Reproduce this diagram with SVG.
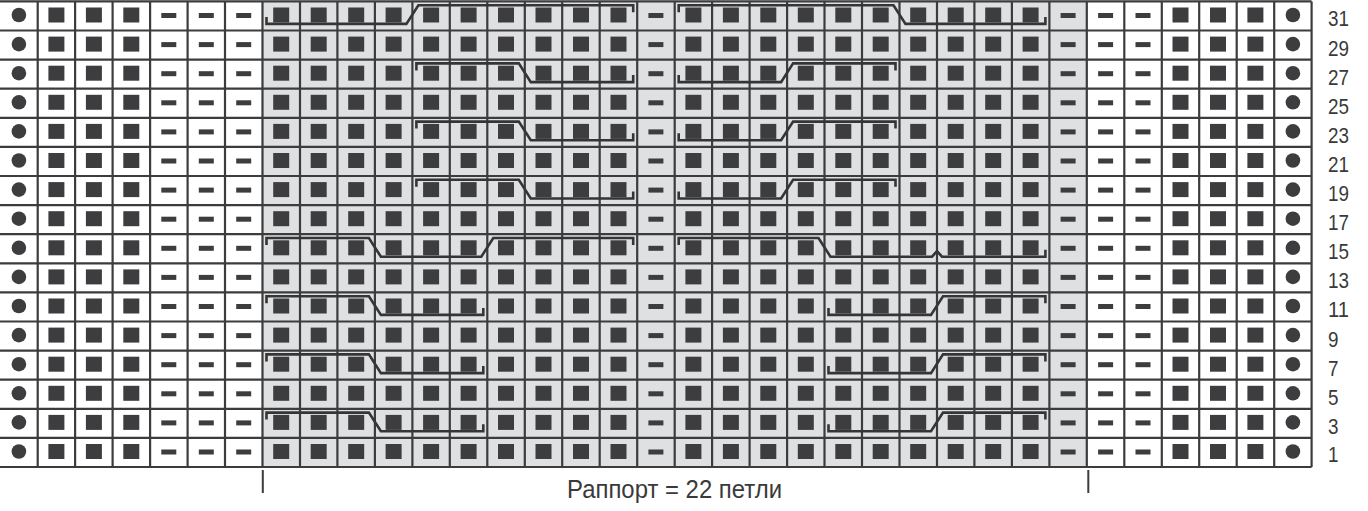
<svg xmlns="http://www.w3.org/2000/svg" xmlns:xlink="http://www.w3.org/1999/xlink" width="1368" height="511" viewBox="0 0 1368 511">
<style>
.grid{fill:none;stroke:#3c3c3c;stroke-width:2.2}
.cable{fill:none;stroke:#353535;stroke-width:2.6;stroke-linejoin:miter}
.st{fill:#3d3d3f}
.lbl{font-family:"Liberation Sans Narrow","Liberation Sans",Arial,sans-serif;font-size:22px;fill:#3a3a3a}
.cap{font-family:"Liberation Sans Narrow","Liberation Sans",Arial,sans-serif;font-size:25px;fill:#3a3a3a}
.mark{stroke:#3c3c3c;stroke-width:2}
</style>
<defs>
<rect id="sq" class="st" x="-8" y="-7.5" width="16" height="15"/>
<rect id="ds" class="st" x="-7.5" y="-2.5" width="15" height="5"/>
<circle id="dt" class="st" r="7.3"/>
<g id="row">
<use href="#dt" x="18.9" y="15"/>
<use href="#sq" x="56.4" y="15"/>
<use href="#sq" x="93.9" y="15"/>
<use href="#sq" x="131.3" y="15"/>
<use href="#ds" x="168.8" y="15.5"/>
<use href="#ds" x="206.3" y="15.5"/>
<use href="#ds" x="243.7" y="15.5"/>
<use href="#sq" x="281.2" y="15"/>
<use href="#sq" x="318.7" y="15"/>
<use href="#sq" x="356.2" y="15"/>
<use href="#sq" x="393.6" y="15"/>
<use href="#sq" x="431.1" y="15"/>
<use href="#sq" x="468.6" y="15"/>
<use href="#sq" x="506.0" y="15"/>
<use href="#sq" x="543.5" y="15"/>
<use href="#sq" x="581.0" y="15"/>
<use href="#sq" x="618.5" y="15"/>
<use href="#ds" x="655.9" y="15.5"/>
<use href="#sq" x="693.4" y="15"/>
<use href="#sq" x="730.9" y="15"/>
<use href="#sq" x="768.3" y="15"/>
<use href="#sq" x="805.8" y="15"/>
<use href="#sq" x="843.3" y="15"/>
<use href="#sq" x="880.7" y="15"/>
<use href="#sq" x="918.2" y="15"/>
<use href="#sq" x="955.7" y="15"/>
<use href="#sq" x="993.2" y="15"/>
<use href="#sq" x="1030.6" y="15"/>
<use href="#ds" x="1068.1" y="15.5"/>
<use href="#ds" x="1105.6" y="15.5"/>
<use href="#ds" x="1143.0" y="15.5"/>
<use href="#sq" x="1180.5" y="15"/>
<use href="#sq" x="1218.0" y="15"/>
<use href="#sq" x="1255.4" y="15"/>
<use href="#dt" x="1292.9" y="15"/>
</g>
</defs>
<rect width="1368" height="511" fill="#ffffff"/>
<g id="rapport-shading">
<rect x="262.5" y="1.4" width="824.3" height="465.6" fill="#dfe0e2"/>
</g>
<g id="stitches">
<use href="#row" y="0"/>
<use href="#row" y="29.1"/>
<use href="#row" y="58.2"/>
<use href="#row" y="87.3"/>
<use href="#row" y="116.4"/>
<use href="#row" y="145.5"/>
<use href="#row" y="174.6"/>
<use href="#row" y="203.7"/>
<use href="#row" y="232.8"/>
<use href="#row" y="261.9"/>
<use href="#row" y="291.0"/>
<use href="#row" y="320.1"/>
<use href="#row" y="349.2"/>
<use href="#row" y="378.3"/>
<use href="#row" y="407.4"/>
<use href="#row" y="436.5"/>
</g>
<g id="grid">
<path class="grid" d="M0,1.4H1311.6M0,30.5H1311.6M0,59.6H1311.6M0,88.7H1311.6M0,117.8H1311.6M0,146.9H1311.6M0,176H1311.6M0,205.1H1311.6M0,234.2H1311.6M0,263.3H1311.6M0,292.4H1311.6M0,321.5H1311.6M0,350.6H1311.6M0,379.7H1311.6M0,408.8H1311.6M0,437.9H1311.6M0,467H1311.6"/>
<path class="grid" d="M37.7,1.4V467M75.1,1.4V467M112.6,1.4V467M150.1,1.4V467M187.6,1.4V467M225,1.4V467M262.5,1.4V467M300,1.4V467M337.4,1.4V467M374.9,1.4V467M412.4,1.4V467M449.8,1.4V467M487.3,1.4V467M524.8,1.4V467M562.2,1.4V467M599.7,1.4V467M637.2,1.4V467M674.7,1.4V467M712.1,1.4V467M749.6,1.4V467M787.1,1.4V467M824.5,1.4V467M862,1.4V467M899.5,1.4V467M937,1.4V467M974.4,1.4V467M1011.9,1.4V467M1049.4,1.4V467M1086.8,1.4V467M1124.3,1.4V467M1161.8,1.4V467M1199.2,1.4V467M1236.7,1.4V467M1274.2,1.4V467M1311.6,1.4V467"/>
</g>
<g id="cables">
<path class="cable" d="M266.5,16.9V23.9H406.4L418.4,5.2H633.2V12.2"/>
<path class="cable" d="M678.7,12.2V5.2H893.5L905.5,23.9H1045.4V16.9"/>
<path class="cable" d="M416.4,70.4V63.4H518.8L530.8,82.1H633.2V75.1"/>
<path class="cable" d="M678.7,75.1V82.1H781.1L793.1,63.4H895.5V70.4"/>
<path class="cable" d="M416.4,128.6V121.6H518.8L530.8,140.3H633.2V133.3"/>
<path class="cable" d="M678.7,133.3V140.3H781.1L793.1,121.6H895.5V128.6"/>
<path class="cable" d="M416.4,186.8V179.8H518.8L530.8,198.5H633.2V191.5"/>
<path class="cable" d="M678.7,191.5V198.5H781.1L793.1,179.8H895.5V186.8"/>
<path class="cable" d="M266.5,245V238H368.9L380.9,256.7H481.3L493.3,238H633.2V245"/>
<path class="cable" d="M678.7,245V238H818.5L830.5,256.7H932L937,251.2L942,256.7H1045.4V249.7"/>
<path class="cable" d="M266.5,303.2V296.2H368.9L380.9,314.9H483.3V307.9"/>
<path class="cable" d="M828.5,307.9V314.9H931L943,296.2H1045.4V303.2"/>
<path class="cable" d="M266.5,361.4V354.4H368.9L380.9,373.1H483.3V366.1"/>
<path class="cable" d="M828.5,366.1V373.1H931L943,354.4H1045.4V361.4"/>
<path class="cable" d="M266.5,419.6V412.6H368.9L380.9,431.3H483.3V424.3"/>
<path class="cable" d="M828.5,424.3V431.3H931L943,412.6H1045.4V419.6"/>
</g>
<g id="row-labels">
<text class="lbl" x="1328" y="26.4" textLength="21" lengthAdjust="spacingAndGlyphs">31</text>
<text class="lbl" x="1328" y="55.5" textLength="21" lengthAdjust="spacingAndGlyphs">29</text>
<text class="lbl" x="1328" y="84.6" textLength="21" lengthAdjust="spacingAndGlyphs">27</text>
<text class="lbl" x="1328" y="113.7" textLength="21" lengthAdjust="spacingAndGlyphs">25</text>
<text class="lbl" x="1328" y="142.8" textLength="21" lengthAdjust="spacingAndGlyphs">23</text>
<text class="lbl" x="1328" y="171.9" textLength="21" lengthAdjust="spacingAndGlyphs">21</text>
<text class="lbl" x="1328" y="201" textLength="21" lengthAdjust="spacingAndGlyphs">19</text>
<text class="lbl" x="1328" y="230.1" textLength="21" lengthAdjust="spacingAndGlyphs">17</text>
<text class="lbl" x="1328" y="259.2" textLength="21" lengthAdjust="spacingAndGlyphs">15</text>
<text class="lbl" x="1328" y="288.3" textLength="21" lengthAdjust="spacingAndGlyphs">13</text>
<text class="lbl" x="1328" y="317.4" textLength="21" lengthAdjust="spacingAndGlyphs">11</text>
<text class="lbl" x="1328" y="346.5" textLength="10.5" lengthAdjust="spacingAndGlyphs">9</text>
<text class="lbl" x="1328" y="375.6" textLength="10.5" lengthAdjust="spacingAndGlyphs">7</text>
<text class="lbl" x="1328" y="404.7" textLength="10.5" lengthAdjust="spacingAndGlyphs">5</text>
<text class="lbl" x="1328" y="433.8" textLength="10.5" lengthAdjust="spacingAndGlyphs">3</text>
<text class="lbl" x="1328" y="462.4" textLength="10.5" lengthAdjust="spacingAndGlyphs">1</text>
</g>
<g id="rapport-label">
<line class="mark" x1="262.8" y1="470" x2="262.8" y2="493"/>
<line class="mark" x1="1088.3" y1="470" x2="1088.3" y2="493"/>
<text class="cap" x="567" y="497.7" textLength="215" lengthAdjust="spacingAndGlyphs">Раппорт = 22 петли</text>
</g>
</svg>
